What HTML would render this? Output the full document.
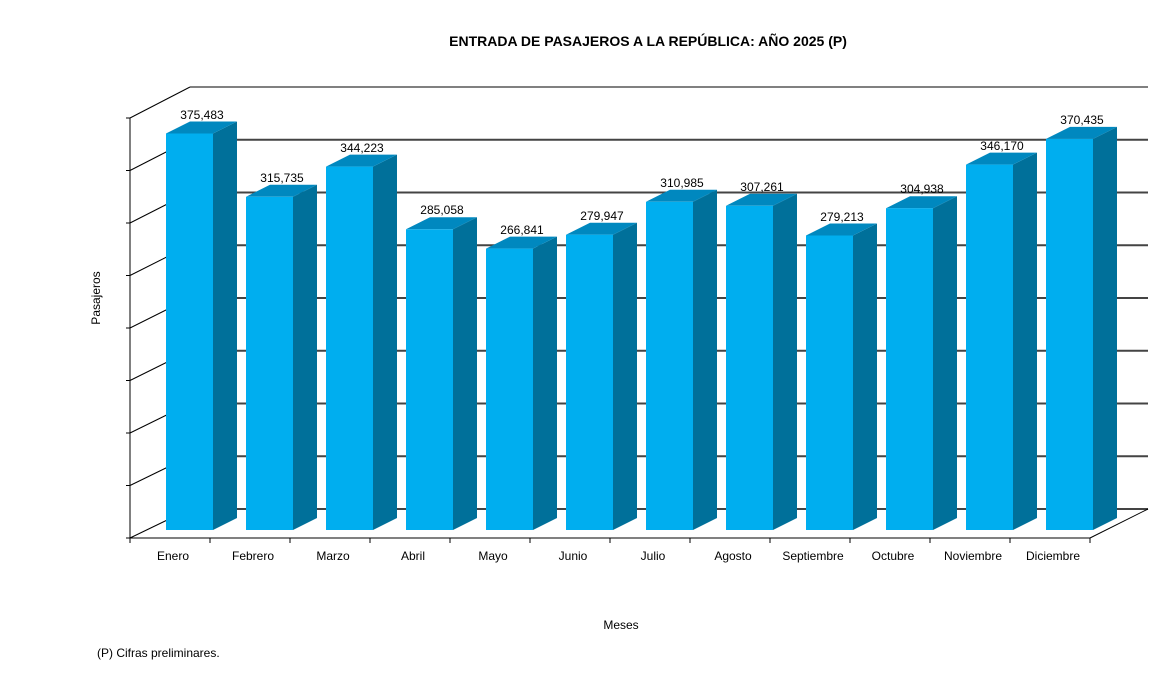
<!DOCTYPE html><html><head><style>html,body{margin:0;background:#fff;overflow:hidden;width:1163px;height:674px}svg{display:block}text{font-family:"Liberation Sans",Arial,sans-serif;font-size:12px}</style></head><body>
<svg width="1163" height="674" xmlns="http://www.w3.org/2000/svg">
<text x="648" y="46" style="font-size:14px" font-weight="bold" text-anchor="middle">ENTRADA DE PASAJEROS A LA REPÚBLICA: AÑO 2025 (P)</text>
<g stroke="#000" stroke-width="1">
<line x1="190" y1="87" x2="1148" y2="87"/>
<g stroke="#444" stroke-width="2">
<line x1="190" y1="139.75" x2="1148" y2="139.75"/><line x1="190" y1="192.5" x2="1148" y2="192.5"/><line x1="190" y1="245.25" x2="1148" y2="245.25"/><line x1="190" y1="298" x2="1148" y2="298"/><line x1="190" y1="350.75" x2="1148" y2="350.75"/><line x1="190" y1="403.5" x2="1148" y2="403.5"/><line x1="190" y1="456.25" x2="1148" y2="456.25"/><line x1="190" y1="509" x2="1148" y2="509"/>
</g>
<line x1="130" y1="118" x2="190" y2="87"/><line x1="130" y1="170.5" x2="190" y2="139.75"/><line x1="130" y1="223" x2="190" y2="192.5"/><line x1="130" y1="275.5" x2="190" y2="245.25"/><line x1="130" y1="328" x2="190" y2="298"/><line x1="130" y1="380.5" x2="190" y2="350.75"/><line x1="130" y1="433" x2="190" y2="403.5"/><line x1="130" y1="485.5" x2="190" y2="456.25"/><line x1="130" y1="538" x2="190" y2="509"/>
<line x1="126" y1="118" x2="130" y2="118"/><line x1="126" y1="170.5" x2="130" y2="170.5"/><line x1="126" y1="223" x2="130" y2="223"/><line x1="126" y1="275.5" x2="130" y2="275.5"/><line x1="126" y1="328" x2="130" y2="328"/><line x1="126" y1="380.5" x2="130" y2="380.5"/><line x1="126" y1="433" x2="130" y2="433"/><line x1="126" y1="485.5" x2="130" y2="485.5"/><line x1="126" y1="538" x2="130" y2="538"/>
<line x1="130" y1="118" x2="130" y2="538"/>
<line x1="130" y1="538" x2="1090" y2="538"/><line x1="1090" y1="538" x2="1148" y2="509"/>
<line x1="130" y1="538" x2="130" y2="543"/><line x1="210" y1="538" x2="210" y2="543"/><line x1="290" y1="538" x2="290" y2="543"/><line x1="370" y1="538" x2="370" y2="543"/><line x1="450" y1="538" x2="450" y2="543"/><line x1="530" y1="538" x2="530" y2="543"/><line x1="610" y1="538" x2="610" y2="543"/><line x1="690" y1="538" x2="690" y2="543"/><line x1="770" y1="538" x2="770" y2="543"/><line x1="850" y1="538" x2="850" y2="543"/><line x1="930" y1="538" x2="930" y2="543"/><line x1="1010" y1="538" x2="1010" y2="543"/><line x1="1090" y1="538" x2="1090" y2="543"/>
</g>
<g fill="#00709a">
<polygon points="213,133.5 237,121.5 237,518 213,530"/><polygon points="293,196.8 317,184.8 317,518 293,530"/><polygon points="373,166.6 397,154.6 397,518 373,530"/><polygon points="453,229.3 477,217.3 477,518 453,530"/><polygon points="533,248.6 557,236.6 557,518 533,530"/><polygon points="613,234.7 637,222.7 637,518 613,530"/><polygon points="693,201.8 717,189.8 717,518 693,530"/><polygon points="773,205.8 797,193.8 797,518 773,530"/><polygon points="853,235.5 877,223.5 877,518 853,530"/><polygon points="933,208.2 957,196.2 957,518 933,530"/><polygon points="1013,164.6 1037,152.6 1037,518 1013,530"/><polygon points="1093,138.9 1117,126.9 1117,518 1093,530"/>
</g>
<g fill="#0088bf">
<polygon points="166,133.5 190,121.5 237,121.5 213,133.5"/><polygon points="246,196.8 270,184.8 317,184.8 293,196.8"/><polygon points="326,166.6 350,154.6 397,154.6 373,166.6"/><polygon points="406,229.3 430,217.3 477,217.3 453,229.3"/><polygon points="486,248.6 510,236.6 557,236.6 533,248.6"/><polygon points="566,234.7 590,222.7 637,222.7 613,234.7"/><polygon points="646,201.8 670,189.8 717,189.8 693,201.8"/><polygon points="726,205.8 750,193.8 797,193.8 773,205.8"/><polygon points="806,235.5 830,223.5 877,223.5 853,235.5"/><polygon points="886,208.2 910,196.2 957,196.2 933,208.2"/><polygon points="966,164.6 990,152.6 1037,152.6 1013,164.6"/><polygon points="1046,138.9 1070,126.9 1117,126.9 1093,138.9"/>
</g>
<g fill="#00aeef">
<rect x="166" y="133.5" width="47" height="396.5"/><rect x="246" y="196.8" width="47" height="333.2"/><rect x="326" y="166.6" width="47" height="363.4"/><rect x="406" y="229.3" width="47" height="300.7"/><rect x="486" y="248.6" width="47" height="281.4"/><rect x="566" y="234.7" width="47" height="295.3"/><rect x="646" y="201.8" width="47" height="328.2"/><rect x="726" y="205.8" width="47" height="324.2"/><rect x="806" y="235.5" width="47" height="294.5"/><rect x="886" y="208.2" width="47" height="321.8"/><rect x="966" y="164.6" width="47" height="365.4"/><rect x="1046" y="138.9" width="47" height="391.1"/>
</g>
<g text-anchor="middle">
<text x="202" y="119">375,483</text><text x="282" y="182">315,735</text><text x="362" y="152">344,223</text><text x="442" y="214">285,058</text><text x="522" y="234">266,841</text><text x="602" y="220">279,947</text><text x="682" y="187">310,985</text><text x="762" y="191">307,261</text><text x="842" y="221">279,213</text><text x="922" y="193">304,938</text><text x="1002" y="150">346,170</text><text x="1082" y="124">370,435</text>
<text x="173" y="560">Enero</text><text x="253" y="560">Febrero</text><text x="333" y="560">Marzo</text><text x="413" y="560">Abril</text><text x="493" y="560">Mayo</text><text x="573" y="560">Junio</text><text x="653" y="560">Julio</text><text x="733" y="560">Agosto</text><text x="813" y="560">Septiembre</text><text x="893" y="560">Octubre</text><text x="973" y="560">Noviembre</text><text x="1053" y="560">Diciembre</text>
</g>
<text transform="translate(100,298) rotate(-90)" text-anchor="middle">Pasajeros</text>
<text x="621" y="629" text-anchor="middle">Meses</text>
<text x="97" y="657">(P) Cifras  preliminares.</text>
</svg></body></html>
